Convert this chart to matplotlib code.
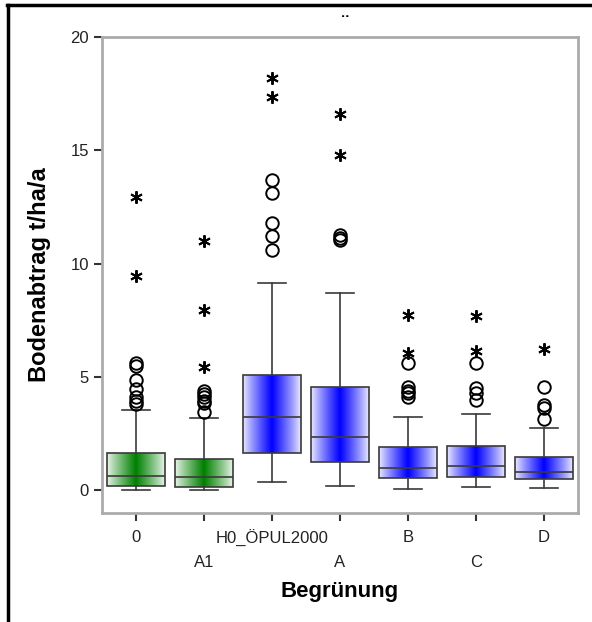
import numpy as np
import matplotlib
matplotlib.use("Agg")
import matplotlib.pyplot as plt
from matplotlib.colors import LinearSegmentedColormap
from matplotlib.lines import Line2D

# Gruppen und Kennwerte
groups = ["0", "A1", "H0_ÖPUL2000", "A", "B", "C", "D"]
box_colors = ["#008000", "#008000", "#0000ff", "#0000ff", "#0000ff", "#0000ff", "#0000ff"]
q1 = [0.18, 0.13, 1.63, 1.24, 0.53, 0.57, 0.48]
median = [0.62, 0.57, 3.23, 2.34, 1.00, 1.06, 0.80]
q3 = [1.63, 1.40, 5.08, 4.55, 1.90, 1.94, 1.46]
whis_lo = [0.00, 0.00, 0.35, 0.18, 0.05, 0.13, 0.09]
whis_hi = [3.53, 3.20, 9.13, 8.70, 3.23, 3.35, 2.73]
# Ausreißer (Kreise) und Extremwerte (Sterne)
outliers = [
    [5.6, 5.5, 4.85, 4.45, 4.1, 3.95, 3.8],
    [4.4, 4.25, 4.1, 3.95, 3.85, 3.45],
    [13.7, 13.1, 11.8, 11.2, 10.6],
    [11.25, 11.15, 11.05],
    [5.6, 4.55, 4.4, 4.3, 4.1],
    [5.6, 4.5, 4.28, 4.0],
    [4.56, 3.75, 3.65, 3.17],
]
extremes = [
    [12.94, 9.45],
    [11.0, 7.95, 5.45],
    [18.2, 17.35],
    [16.6, 14.8],
    [7.73, 6.05],
    [7.68, 6.14],
    [6.22],
]

plt.rcParams["font.family"] = ["Liberation Sans", "DejaVu Sans"]

fig = plt.figure(figsize=(5.92, 6.22), dpi=100)
ax = fig.add_axes([0.1723, 0.1752, 0.8041, 0.7653])

stats = []
for i, g in enumerate(groups):
    stats.append({"label": g, "med": median[i], "q1": q1[i], "q3": q3[i],
                  "whislo": whis_lo[i], "whishi": whis_hi[i], "fliers": outliers[i]})

line_col = "#3a3a3a"
bp = ax.bxp(stats, positions=range(len(groups)), widths=0.85, capwidths=0.4,
            patch_artist=True, showfliers=True,
            boxprops=dict(facecolor="none", edgecolor=line_col, linewidth=1.2),
            medianprops=dict(color=line_col, linewidth=1.2),
            whiskerprops=dict(color=line_col, linewidth=1.2),
            capprops=dict(color=line_col, linewidth=1.2),
            flierprops=dict(marker="o", markersize=9, markerfacecolor="none",
                            markeredgecolor="black", markeredgewidth=1.4))

# Farbverlauf in den Boxen: Rand hell, Mitte kräftig
t = np.linspace(0, 1, 200)
grad = (1 - np.abs(2 * t - 1)) ** 0.9
grad = 0.08 + 0.92 * grad
for patch, col in zip(bp["boxes"], box_colors):
    ext = patch.get_path().get_extents()
    cmap = LinearSegmentedColormap.from_list("g", ["white", col])
    im = ax.imshow(grad[np.newaxis, :], cmap=cmap, vmin=0, vmax=1, aspect="auto",
                   extent=[ext.x0, ext.x1, ext.y0, ext.y1], zorder=1.5,
                   interpolation="bilinear")
    im.set_clip_path(patch)
    patch.set_zorder(2)

# Extremwerte als Sterne
for i, vals in enumerate(extremes):
    ax.plot([i] * len(vals), vals, linestyle="none", marker=(6, 2, 0),
            markersize=9, markeredgecolor="black", markeredgewidth=1.4, zorder=3)

for line in bp["medians"]:
    line.set_zorder(2.5)

ax.set_xlim(-0.5, 6.5)
ax.set_ylim(-1.0, 20)
ax.set_yticks([0, 5, 10, 15, 20])
ax.set_xticks(range(len(groups)))
ax.set_xticklabels(groups)

for s in ax.spines.values():
    s.set_color("#ababab")
    s.set_linewidth(2)

ax.tick_params(axis="both", direction="out", length=6, width=1.5, color="#333333",
               labelsize=12, labelcolor="#222222")
for k, tick in enumerate(ax.xaxis.get_major_ticks()):
    tick.set_pad(6 if k % 2 == 0 else 24)

ax.set_ylabel("Bodenabtrag t/ha/a", fontsize=17, fontweight="bold", labelpad=14)
ax.set_xlabel("Begrünung", fontsize=16, fontweight="bold", labelpad=8)

# Rest des abgeschnittenen Titels
fig.text(0.583, 0.955, "¨", ha="center", va="baseline", fontsize=14, fontweight="bold")

# Rahmen links und oben
fig.add_artist(Line2D([0.013, 0.013], [0, 0.992], color="black", linewidth=2.5,
                      transform=fig.transFigure))
fig.add_artist(Line2D([0.011, 1.0], [0.992, 0.992], color="black", linewidth=2.5,
                      transform=fig.transFigure))

fig.savefig("out.png", dpi=100)
